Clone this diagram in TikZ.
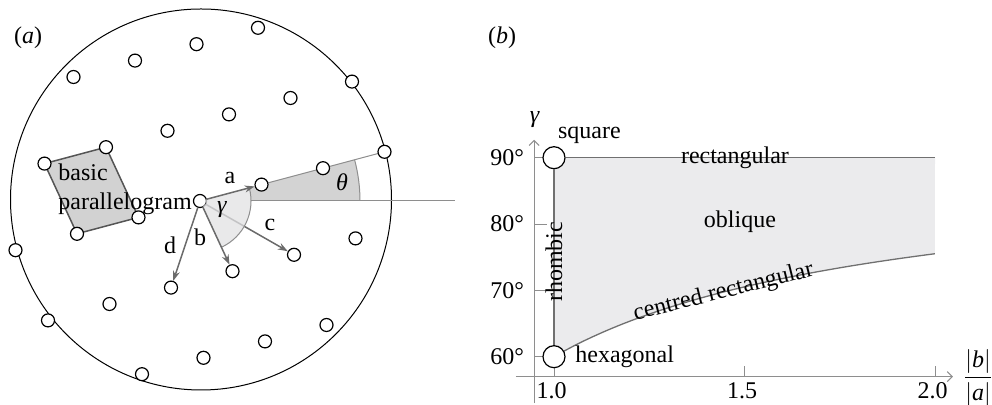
\documentclass[tikz,border=0pt]{standalone}
\usepackage{amsmath}
\usepackage{fontspec}
\setmainfont{Liberation Serif}
\usetikzlibrary{calc,arrows.meta}

\definecolor{vecgrey}{HTML}{6B6B6B}
\definecolor{linegrey}{HTML}{8E8E8E}
\definecolor{thetafill}{HTML}{D3D3D3}
\definecolor{gammafill}{HTML}{E1E1E3}
\definecolor{cellfill}{HTML}{D2D2D2}
\definecolor{cellline}{HTML}{555555}
\definecolor{obliquefill}{HTML}{EBEBED}
\definecolor{boundgrey}{HTML}{707070}

\begin{document}
\begin{tikzpicture}[x=0.5pt, y=0.5pt,
  font=\fontsize{12}{14.5}\selectfont,
  latpt/.style={circle, draw=black, fill=white, line width=0.6pt, inner sep=0pt, minimum size=6.5pt},
  bigpt/.style={circle, draw=black, fill=white, line width=0.6pt, inner sep=0pt, minimum size=11pt},
  vec/.style={draw=vecgrey, line width=0.75pt, -{Stealth[length=5pt,width=3.5pt]}},
  thingrey/.style={draw=linegrey, line width=0.5pt},
  bound/.style={draw=boundgrey, line width=0.65pt},
  axis/.style={draw=linegrey, line width=0.5pt},
  lbl/.style={inner sep=0pt}]
  \useasboundingbox (0,0) rectangle (992,405);

  % (a) the lattice
  \node[lbl] (taga) at (28,367) {(\textit{a})};
  \coordinate (O) at (200,204);
  \draw[line width=0.5pt] (201,205.5) circle[radius=190.5];

  \begin{scope}[shift={(O)}, x={(30.75pt,8.2pt)}, y={(16.25pt,-35.1pt)}]
    \foreach \n/\m in {2/-2,1/-2,0/-2,-1/-2,3/-1,2/-1,1/-1,0/-1,-1/-1,-2/-1,
                       3/0,2/0,1/0,0/0,-1/0,-2/0,-3/0,2/1,1/1,0/1,-1/1,-2/1,-3/1,
                       1/2,0/2,-1/2,-2/2}
      \coordinate (l\n\m) at (\n,\m);
  \end{scope}

  % theta wedge and guide lines
  \fill[thetafill] ($(O)+(0:51)$) -- ($(O)+(0:160)$) arc[start angle=0, end angle=14.93, radius=160]
    -- ($(O)+(14.93:51)$) arc[start angle=14.93, end angle=0, radius=51] -- cycle;
  \coordinate (hz0) at ($(O)+(51,0)$);
  \coordinate (hz1) at (455,204);
  \draw[thingrey] (hz0) -- (hz1);
  \draw[thingrey] (l10) -- (l30);
  \draw[thingrey] ($(O)+(0:160)$) arc[start angle=0, end angle=14.93, radius=160];

  % basic parallelogram
  \draw[fill=cellfill, draw=cellline, line width=0.75pt] (l-2-1) -- (l-1-1) -- (l-10) -- (l-20) -- cycle;

  % lattice points
  \foreach \n/\m in {2/-2,1/-2,0/-2,-1/-2,3/-1,2/-1,1/-1,0/-1,-1/-1,-2/-1,
                     3/0,2/0,1/0,0/0,-1/0,-2/0,-3/0,2/1,1/1,0/1,-1/1,-2/1,-3/1,
                     1/2,0/2,-1/2,-2/2}
    \node[latpt] (p\n\m) at (l\n\m) {};

  % vectors c, d, then the gamma wedge, then a, b
  \draw[vec] (p00) -- (p11);
  \draw[vec] (p00) -- (p-11);
  \fill[gammafill, fill opacity=0.75] ($(O)+(14.93:6.5)$) -- ($(O)+(14.93:51)$)
    arc[start angle=14.93, end angle=-65.16, radius=51]
    -- ($(O)+(-65.16:6.5)$) arc[start angle=-65.16, end angle=14.93, radius=6.5] -- cycle;
  \draw[thingrey] ($(O)+(14.93:51)$) arc[start angle=14.93, end angle=-65.16, radius=51];
  \draw[vec] (p00) -- (p10);
  \draw[vec] (p00) -- (p01);

  \node[lbl] (la) at (230,227) {a};
  \node[lbl] (lb) at (200,168) {b};
  \node[lbl] (lc) at (270,180) {c};
  \node[lbl] (ld) at (170,160) {d};
  \node[lbl] (lgam) at (222,195) {\textit{γ}};
  \node[lbl] (lthe) at (342,223) {\textit{θ}};
  \node[lbl, anchor=west, align=left] (cell) at (58,216) {basic\\parallelogram};

  % (b) the lattice types
  \node[lbl] (tagb) at (502,367) {(\textit{b})};

  \begin{scope}[shift={(86.5pt,-174.84pt)}, x=190.5pt, y=3.3165pt]
    \fill[obliquefill] (1,60) -- plot[domain=1:2, samples=40] (\x, {acos(1/(2*\x))}) -- (2,90) -- (1,90) -- cycle;

    % axes
    \coordinate (xs) at (0.9,57);
    \coordinate (xe) at (2.047,57);
    \coordinate (ys) at (0.948,53);
    \coordinate (ye) at (0.948,92.7);
    \draw[axis, -{Straight Barb[length=2.5pt,width=5pt]}] (xs) -- (xe);
    \draw[axis, -{Straight Barb[length=2.5pt,width=5pt]}] (ys) -- (ye);
    \foreach \g in {60,70,80,90} {
      \draw[axis] (0.948,\g) -- (0.981,\g);
      \node[lbl, anchor=east] (ty\g) at (0.922,\g) {\g°};
    }
    \foreach \r/\t in {1.0/a,1.5/b,2.0/c} {
      \draw[axis] (\r,57) -- (\r,58.66);
      \node[lbl] (tx\t) at (\r-0.006,54.9) {\r};
    }
    \node[lbl] (ylab) at (0.95,95.7) {\textit{γ}};
    \node[lbl] (xlab) at (2.113,56.8) {$\dfrac{|\textit{b}|}{|\textit{a}|}$};

    % boundaries
    \draw[bound] plot[domain=1:2, samples=40] (\x, {acos(1/(2*\x))});
    \coordinate (r90) at (2,90);
    \node[bigpt] (sq) at (1,90) {};
    \node[bigpt] (hx) at (1,60) {};
    \draw[bound] (hx) -- (sq);
    \draw[bound] (sq) -- (r90);

    % labels
    \node[lbl, anchor=west] (lsq) at (1.0095,93.4) {square};
    \node[lbl] (lrect) at (1.475,90) {rectangular};
    \node[lbl] (lobl) at (1.488,80.35) {oblique};
    \node[lbl, rotate=90] (lrho) at (1,74.3) {rhombic};
    \node[lbl, rotate=14] (lcen) at (1.445,69.7) {centred rectangular};
    \node[lbl, anchor=west] (lhex) at (1.055,60) {hexagonal};
  \end{scope}
\end{tikzpicture}
\end{document}
